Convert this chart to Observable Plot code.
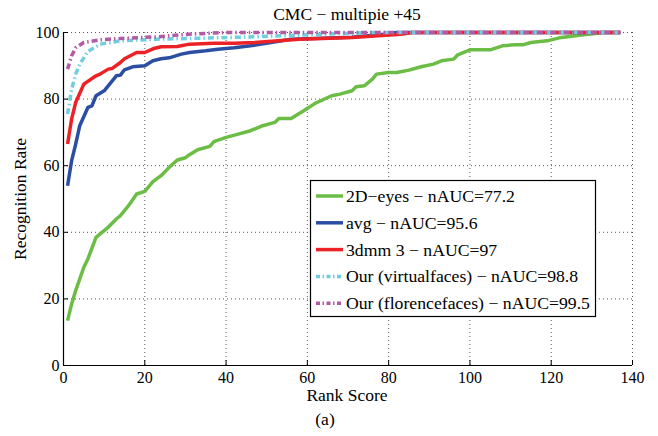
<!DOCTYPE html>
<html><head><meta charset="utf-8">
<script src="https://cdn.jsdelivr.net/npm/d3@7"></script>
<script src="https://cdn.jsdelivr.net/npm/@observablehq/plot@0.6"></script>
<style>body{margin:0;background:#fff}#chart{width:658px;height:436px}</style>
</head><body><div id="chart"></div>
<script>
const titleText = "CMC − multipie +45";
const xLabel = "Rank Score";
const yLabel = "Recognition Rate";
const caption = "(a)";
const xTicks = [0, 20, 40, 60, 80, 100, 120, 140];
const yTicks = [0, 20, 40, 60, 80, 100];

const eyesRank = [1,2,3,5,6,8,10,11,13,14,16,18,20,22,24,26,28,30,31,33,36,37,40,43,46,49,52,53,56,59,62,66,68,71,72,74,76,77,80,82,85,88,91,93,96,97,100,105,108,111,113,115,119,122,126,128,133,137];
const eyesRate = [13.5,18.5,22.5,29.5,32,38.5,40.5,41.5,44,45,48,51.5,52.3,55.2,57,59.5,61.7,62.4,63.3,64.8,65.8,67.2,68.5,69.5,70.5,72,73,74.2,74.2,76.4,78.8,81,81.5,82.5,83.7,84,86,87.5,88,88,88.7,89.7,90.5,91.5,92,93.3,94.8,94.8,96,96.3,96.3,97,97.5,98.4,99,99.3,100,100];
const avgRank = [1,2,3,4,6,7,8,10,11,13,14,15,17,20,22,24,26,29,31,35,38,42,46,56,71,79,82,137];
const avgRate = [54,61.5,66.5,72,77.5,78,81,82.5,84,87,87.2,88.8,89.7,90,91.5,92.1,92.4,93.5,94,94.5,95,95.4,96,98,98.6,99.5,100,100];
const dmmRank = [1,2,3,5,8,9,11,12,14,15,18,20,22,24,28,31,37,42,47,58,71,83,86,137];
const dmmRate = [66.5,74,79,84.5,87,87.5,89,89.2,91,92.1,94,94,95.1,95.7,95.8,96.5,96.8,96.8,97,98,98.5,99.5,100,100];
const virtRank = [1,2,3,4,6,9,14,23,31,47,60,75,137];
const virtRate = [75.5,83,87.5,90.5,94.3,96.5,97.5,98,98.2,98.7,99.3,100,100];
const florRank = [1,2,3,5,9,14,23,31,40,137];
const florRate = [89,93,95.4,97,97.8,98.2,98.7,99.5,100,100];

const seriesNames = ["2D−eyes − nAUC=77.2","avg − nAUC=95.6","3dmm 3 − nAUC=97","Our (virtualfaces) − nAUC=98.8","Our (florencefaces) − nAUC=99.5"];
const seriesColors = ["#6cbd45","#2b4ea2","#ec2227","#6fcfdf","#b35aa6"];
const seriesDash = [null,null,null,"6,3,1.5,3","6,3,1.5,3"];
const seriesRanks = [eyesRank, avgRank, dmmRank, virtRank, florRank];
const seriesRates = [eyesRate, avgRate, dmmRate, virtRate, florRate];

const series = seriesNames.map((name, i) => ({
  name, color: seriesColors[i], dash: seriesDash[i],
  points: seriesRanks[i].map((r, j) => ({rank: r, rate: seriesRates[i][j]}))
}));

const FONT = "Liberation Serif";

const plot = Plot.plot({
  width: 658, height: 436,
  marginLeft: 63, marginRight: 26, marginTop: 32, marginBottom: 71,
  style: {fontFamily: FONT, fontSize: "16px", background: "white", color: "black", overflow: "visible"},
  x: {domain: [0, 140]},
  y: {domain: [0, 100]},
  marks: [
    Plot.ruleX(xTicks.slice(1), {stroke: "#555", strokeOpacity: 1, strokeWidth: 1, strokeDasharray: "1,3"}),
    Plot.ruleY(yTicks.slice(1), {stroke: "#555", strokeOpacity: 1, strokeWidth: 1, strokeDasharray: "1,3"}),
    ...series.map(s => Plot.line(s.points, {x: "rank", y: "rate", stroke: s.color, strokeWidth: 3.5,
      strokeDasharray: s.dash || undefined, strokeLinejoin: "round", strokeLinecap: "butt"})),
    Plot.axisX(xTicks, {tickSize: -5, tickFormat: () => "", label: null}),
    Plot.axisX(xTicks, {tickSize: 0, tickPadding: 6, label: null, fontSize: 16}),
    Plot.axisY(yTicks, {tickSize: -5, tickFormat: () => "", label: null}),
    Plot.axisY(yTicks, {tickSize: 0, tickPadding: 4, label: null, fontSize: 16}),
    Plot.ruleX([0], {stroke: "black", strokeWidth: 1.2}),
    Plot.ruleY([0], {stroke: "black", strokeWidth: 1.2})
  ]
});

const svg = d3.select(plot);
svg.selectAll("text").style("font-family", FONT);
function styleText(sel, size, anchor) {
  return sel.style("font-family", FONT).style("font-size", size + "px")
    .style("text-anchor", anchor).style("fill", "black");
}
styleText(svg.append("text").attr("x", 347).attr("y", 20).text(titleText), 17.5, "middle");
styleText(svg.append("text").attr("x", 347).attr("y", 401).text(xLabel), 17.5, "middle");
styleText(svg.append("text").attr("x", 325).attr("y", 425).text(caption), 17.5, "middle");
styleText(svg.append("text").attr("transform", "translate(26,199) rotate(-90)").text(yLabel), 17.5, "middle");

const lg = svg.append("g");
lg.append("rect").attr("x", 310.5).attr("y", 180.5).attr("width", 285).attr("height", 136)
  .attr("fill", "white").attr("stroke", "black").attr("stroke-width", 1.2);
series.forEach((s, i) => {
  const cy = 196 + i * 26.8;
  lg.append("line").attr("x1", 316).attr("x2", 343).attr("y1", cy).attr("y2", cy)
    .attr("stroke", s.color).attr("stroke-width", 3.5)
    .attr("stroke-dasharray", s.dash ? "4,2.5,1.5,2.5" : null);
  styleText(lg.append("text").attr("x", 346).attr("y", cy + 6).text(s.name), 17.7, "start");
});

document.getElementById("chart").appendChild(plot);
</script></body></html>
